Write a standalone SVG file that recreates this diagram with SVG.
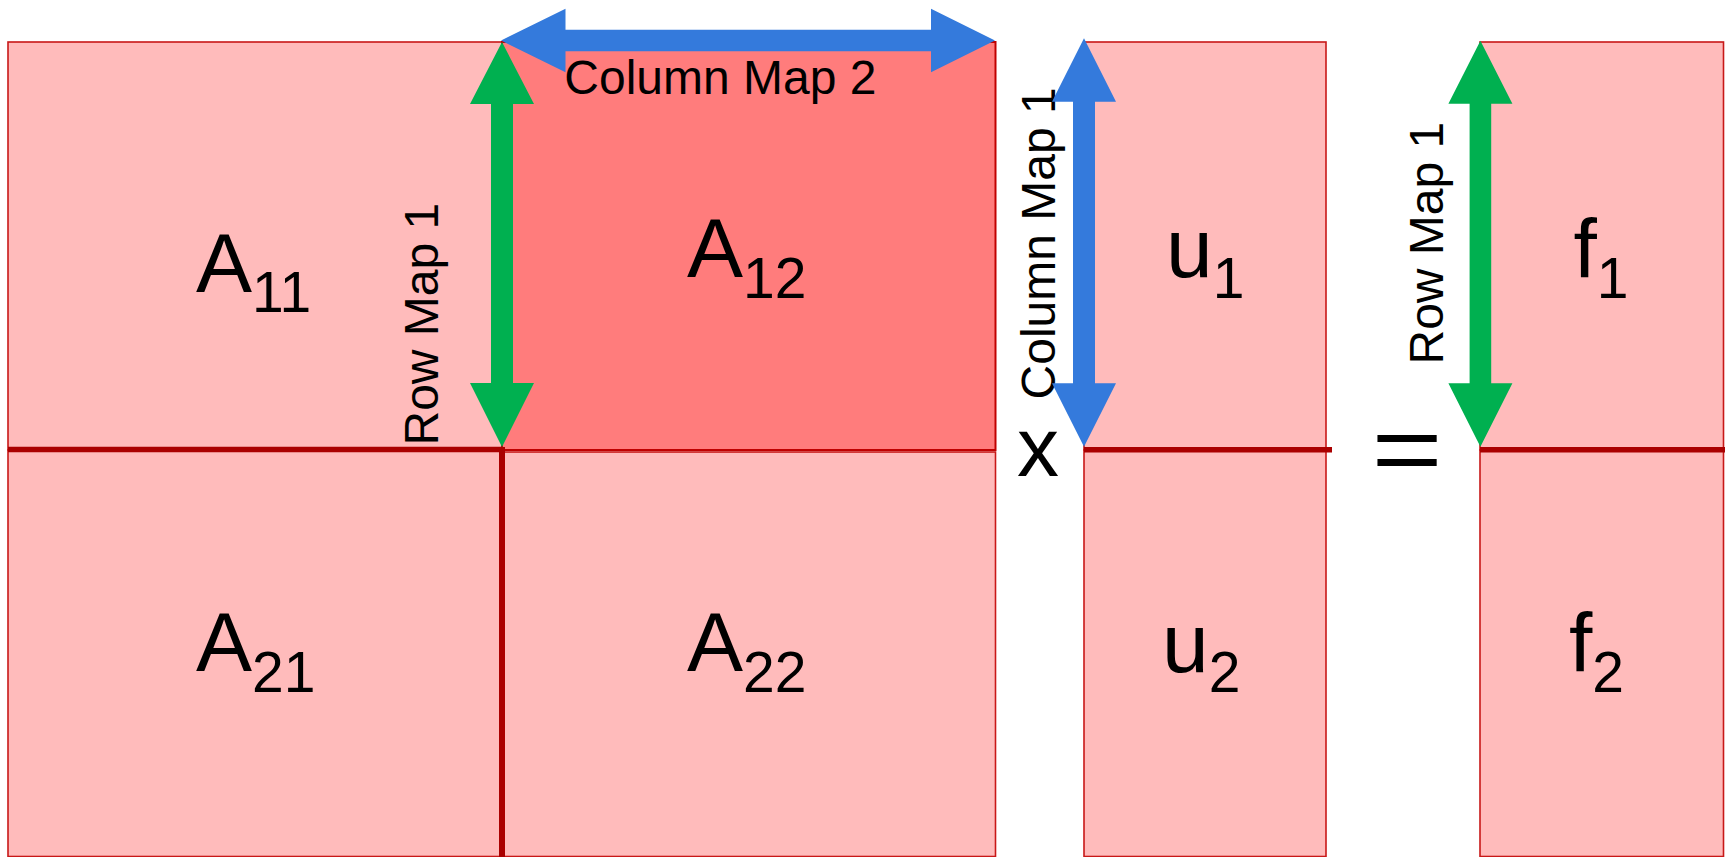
<svg xmlns="http://www.w3.org/2000/svg" width="1725" height="857" viewBox="0 0 1725 857">
<style>
.cell{fill:#FFBBBB;stroke:#C81818;stroke-width:1.6}
.hot{fill:#FF7C7C;stroke:#C00000;stroke-width:2}
.div{stroke:#AA0000;stroke-width:5.6;fill:none}
.big{font-family:"Liberation Sans",Arial,sans-serif;font-size:84px;fill:#000}
.sub{font-size:57px}
.lab{font-family:"Liberation Sans",Arial,sans-serif;font-size:48px;fill:#000}
.green{fill:#00B050}
.blue{fill:#347ADC}
</style>
<rect width="1725" height="857" fill="#FFFFFF"/>
<g id="A11"><rect class="cell" x="8" y="42" width="494" height="408"/><text class="big" x="196" y="292">A<tspan class="sub" dy="20">11</tspan></text></g>
<g id="A12"><rect class="hot" x="502" y="42" width="493.5" height="408"/><text class="big" x="687" y="277">A<tspan class="sub" dy="21">12</tspan></text></g>
<g id="A21"><rect class="cell" x="8" y="450" width="494" height="406.5"/><text class="big" x="196" y="671">A<tspan class="sub" dy="21">21</tspan></text></g>
<g id="A22"><rect class="cell" x="502" y="452" width="493.5" height="404.5"/><text class="big" x="687" y="671">A<tspan class="sub" dy="21">22</tspan></text></g>
<g id="u1"><rect class="cell" x="1084" y="42" width="242" height="408"/><text class="big" x="1166" y="277">u<tspan class="sub" dy="21">1</tspan></text></g>
<g id="u2"><rect class="cell" x="1084" y="450" width="242" height="406.5"/><text class="big" x="1162" y="672">u<tspan class="sub" dy="20">2</tspan></text></g>
<g id="f1"><rect class="cell" x="1480" y="42" width="243.5" height="408"/><text class="big" x="1573.5" y="278">f<tspan class="sub" dy="20">1</tspan></text></g>
<g id="f2"><rect class="cell" x="1480" y="450" width="243.5" height="406.5"/><text class="big" x="1569" y="672">f<tspan class="sub" dy="20">2</tspan></text></g>
<g id="dividers">
<line class="div" x1="8" y1="449.5" x2="502" y2="449.5"/>
<line class="div" x1="502" y1="447" x2="502" y2="857" style="stroke-width:6"/>
<line class="div" x1="1084" y1="449.8" x2="1332" y2="449.8"/>
<line class="div" x1="1480" y1="449.8" x2="1725" y2="449.8"/>
</g>
<g id="operators">
<text class="big" x="1038" y="476" text-anchor="middle">x</text>
<text class="big" transform="translate(1407,450.5) scale(1,0.79)" x="0" y="40.4" text-anchor="middle" style="font-size:122px">=</text>
</g>
<g id="labels">
<text class="lab" x="564.3" y="94">Column Map 2</text>
<text class="lab" transform="translate(438,445.5) rotate(-90)">Row Map 1</text>
<text class="lab" transform="translate(1055,399.4) rotate(-90)">Column Map 1</text>
<text class="lab" transform="translate(1442.5,364.5) rotate(-90)">Row Map 1</text>
</g>
<g id="connectors">
<polygon class="green" points="502,42 534,104 513,104 513,383 534,383 502,447 470,383 491,383 491,104 470,104"/>
<polygon class="blue" points="501,40.5 565.5,8.8 565.5,29.7 931,29.7 931,8.8 995,40.5 931,72.2 931,51.3 565.5,51.3 565.5,72.2"/>
<polygon class="blue" points="1084,38.3 1116,101.7 1095,101.7 1095,383.3 1116,383.3 1084,446.7 1052,383.3 1073,383.3 1073,101.7 1052,101.7"/>
<polygon class="green" points="1480.4,40.7 1512.4,103.7 1491.2,103.7 1491.2,383.3 1512.4,383.3 1480.4,446.7 1448.4,383.3 1469.6,383.3 1469.6,103.7 1448.4,103.7"/>
</g>
</svg>
